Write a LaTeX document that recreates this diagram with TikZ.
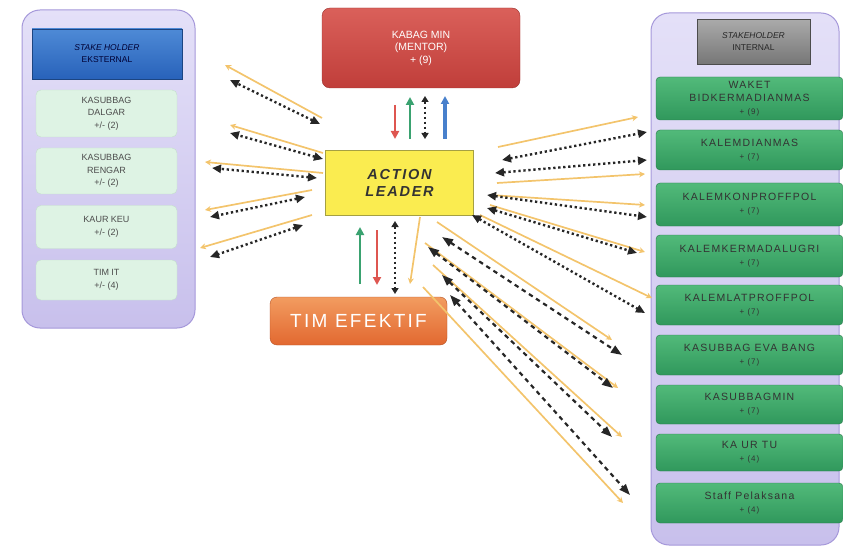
\documentclass[tikz,border=0pt]{standalone}
\usepackage{fontspec}
\setmainfont{Liberation Sans}
\newfontfamily\spaced[LetterSpace=12]{Liberation Sans}
\usetikzlibrary{arrows.meta}

\definecolor{paneltop}{RGB}{228,224,248}
\definecolor{panelbot}{RGB}{200,192,236}
\definecolor{panelline}{RGB}{165,152,218}
\definecolor{mint}{RGB}{222,243,228}
\definecolor{mintline}{RGB}{196,222,204}
\definecolor{greentop}{RGB}{82,186,122}
\definecolor{greenbot}{RGB}{48,152,92}
\definecolor{greenline}{RGB}{40,120,75}
\definecolor{bluetop}{RGB}{78,138,214}
\definecolor{bluebot}{RGB}{40,98,186}
\definecolor{graytop}{RGB}{170,170,170}
\definecolor{graybot}{RGB}{118,118,118}
\definecolor{redtop}{RGB}{218,96,90}
\definecolor{redbot}{RGB}{192,62,58}
\definecolor{yellowbox}{RGB}{250,236,80}
\definecolor{orangetop}{RGB}{242,156,96}
\definecolor{orangebot}{RGB}{226,104,48}
\definecolor{gold}{RGB}{243,196,108}
\definecolor{arrred}{RGB}{222,86,80}
\definecolor{arrgreen}{RGB}{58,162,112}
\definecolor{arrblue}{RGB}{72,128,204}

\begin{document}
\begin{tikzpicture}[x=1pt,y=-1pt,
  panelbox/.style={draw=panelline, line width=1pt, rounded corners=18pt,
    top color=paneltop, bottom color=panelbot, minimum width=#1},
  extbox/.style={draw=mintline, rounded corners=5pt, fill=mint, text=black!70,
    align=center, inner sep=0pt, minimum width=141pt,
    font=\fontsize{9}{12.5}\selectfont},
  intbox/.style={draw=greenline, rounded corners=4pt, top color=greentop,
    bottom color=greenbot, text=black!80, align=center, inner sep=0pt,
    minimum width=187pt, font=\spaced\fontsize{10.5}{13}\selectfont},
  goldarrow/.style={draw=gold, line width=1.7pt, -{Stealth[length=6pt,width=6pt]}},
  dotarrow/.style={draw=black!85, line width=2.4pt, dash pattern=on 2.3pt off 2.7pt,
    {Triangle[length=9pt,width=8pt]}-{Triangle[length=9pt,width=8pt]}},
  dasharrow/.style={draw=black!85, line width=2.2pt, dash pattern=on 4.5pt off 4pt,
    {Triangle[length=11pt,width=8pt]}-{Triangle[length=11pt,width=8pt]}}]
  \useasboundingbox (0,0) rectangle (843,548);

  % stakeholder eksternal
  \node[panelbox=173pt, minimum height=318pt] (ext) at (108.5,169) {};
  \node[draw=bluebot!70!black, top color=bluetop, bottom color=bluebot,
    minimum width=150pt, minimum height=50pt, align=center, text=blue!20!black,
    font=\fontsize{8.5}{12}\selectfont] (exthead) at (107,54)
    {{\itshape STAKE HOLDER}\\EKSTERNAL};
  \node[extbox, minimum height=47pt] (dalgar) at (106.5,113.5) {KASUBBAG\\DALGAR\\+/- (2)};
  \node[extbox, minimum height=46pt] (rengar) at (106.5,171) {KASUBBAG\\RENGAR\\+/- (2)};
  \node[extbox, minimum height=43pt] (kaurkeu) at (106.5,227) {KAUR KEU\\+/- (2)};
  \node[extbox, minimum height=40pt] (timit) at (106.5,280) {TIM IT\\+/- (4)};

  % stakeholder internal
  \node[panelbox=188pt, minimum height=532pt] (int) at (745,279) {};
  \node[draw=black!70, top color=graytop, bottom color=graybot,
    minimum width=113pt, minimum height=45pt, align=center, text=black!85,
    font=\fontsize{8.5}{12}\selectfont] (inthead) at (753.5,42)
    {{\itshape STAKEHOLDER}\\INTERNAL};
  \node[intbox, minimum height=43pt] (waket) at (749.5,98.5) {WAKET\\BIDKERMADIANMAS\\{\footnotesize + (9)}};
  \node[intbox, minimum height=40pt] (dianmas) at (749.5,150) {KALEMDIANMAS\\{\footnotesize + (7)}};
  \node[intbox, minimum height=43pt] (konprof) at (749.5,204.5) {KALEMKONPROFFPOL\\{\footnotesize + (7)}};
  \node[intbox, minimum height=42pt] (kermad) at (749.5,256) {KALEMKERMADALUGRI\\{\footnotesize + (7)}};
  \node[intbox, minimum height=40pt] (latprof) at (749.5,305) {KALEMLATPROFFPOL\\{\footnotesize + (7)}};
  \node[intbox, minimum height=40pt] (evabang) at (749.5,355) {KASUBBAG EVA BANG\\{\footnotesize + (7)}};
  \node[intbox, minimum height=39pt] (subbagmin) at (749.5,404.5) {KASUBBAGMIN\\{\footnotesize + (7)}};
  \node[intbox, minimum height=37pt] (kaurtu) at (749.5,452.5) {KA UR TU\\{\footnotesize + (4)}};
  \node[intbox, minimum height=40pt] (staff) at (749.5,503) {Staff Pelaksana\\{\footnotesize + (4)}};

  % middle
  \node[draw=redbot!80!black, rounded corners=8pt, top color=redtop, bottom color=redbot,
    minimum width=198pt, minimum height=80pt, align=center, text=white,
    font=\fontsize{10.5}{12.5}\selectfont] (mentor) at (421,48)
    {KABAG MIN\\(MENTOR)\\+ (9)};
  \node[draw=yellow!60!black, fill=yellowbox, minimum width=148pt, minimum height=65pt,
    align=center, text=black!80,
    font=\spaced\bfseries\itshape\fontsize{14.5}{17}\selectfont] (leader) at (399.5,182.5)
    {ACTION\\LEADER};
  \node[draw=orangebot!80!black, rounded corners=7pt, top color=orangetop,
    bottom color=orangebot, minimum width=177pt, minimum height=48pt, text=white,
    font=\spaced\fontsize{19}{22}\selectfont] (timef) at (358.5,321) {TIM EFEKTIF};

  % mentor <-> leader
  \foreach \n/\xa/\ya/\xb/\yb/\c/\w in {r/395/105/395/139/arrred/2pt, g/410/139/410/97/arrgreen/2pt,
      b/445/139/445/96/arrblue/3.2pt}
  {
    \coordinate (m\n s) at (\xa,\ya);
    \coordinate (m\n e) at (\xb,\yb);
    \draw[\c, line width=\w, -{Triangle[length=8pt,width=8pt]}] (m\n s) -- (m\n e);
  }
  \coordinate (mks) at (425,96);
  \coordinate (mke) at (425,139);
  \draw[dotarrow, {Triangle[length=6pt,width=7pt]}-{Triangle[length=6pt,width=7pt]}] (mks) -- (mke);

  % leader <-> tim efektif
  \coordinate (tgs) at (360,284);
  \coordinate (tge) at (360,227);
  \draw[arrgreen, line width=2pt, -{Triangle[length=8pt,width=8pt]}] (tgs) -- (tge);
  \coordinate (trs) at (377,230);
  \coordinate (tre) at (377,285);
  \draw[arrred, line width=2pt, -{Triangle[length=8pt,width=8pt]}] (trs) -- (tre);
  \coordinate (tks) at (395,221);
  \coordinate (tke) at (395,294);
  \draw[dotarrow, {Triangle[length=6pt,width=7pt]}-{Triangle[length=6pt,width=7pt]}] (tks) -- (tke);
  \coordinate (tos) at (420,217);
  \coordinate (toe) at (410,284);
  \draw[goldarrow] (tos) -- (toe);

  % leader <-> eksternal
  \foreach \n/\xa/\ya/\xb/\yb in {1/322/118/225/65, 2/323/153/230/125, 3/323/173/205/162,
      4/312/190/205/210, 5/312/215/200/248}
  {
    \coordinate (lo\n s) at (\xa,\ya);
    \coordinate (lo\n e) at (\xb,\yb);
    \draw[goldarrow] (lo\n s) -- (lo\n e);
  }
  \foreach \n/\xa/\ya/\xb/\yb in {1/320/124/230/80, 2/323/159/230/133, 3/317/178/212/168,
      4/305/197/210/217, 5/303/225/210/257}
  {
    \coordinate (ld\n s) at (\xa,\ya);
    \coordinate (ld\n e) at (\xb,\yb);
    \draw[dotarrow] (ld\n s) -- (ld\n e);
  }

  % leader <-> internal
  \foreach \n/\xa/\ya/\xb/\yb in {1/498/147/638/117, 2/497/183/645/174, 3/490/195/645/205,
      4/490/205/645/252, 5/480/215/652/298, 6/437/222/612/340, 7/425/243/618/388,
      8/433/265/622/437, 9/423/287/623/503}
  {
    \coordinate (ro\n s) at (\xa,\ya);
    \coordinate (ro\n e) at (\xb,\yb);
    \draw[goldarrow] (ro\n s) -- (ro\n e);
  }
  \foreach \n/\xa/\ya/\xb/\yb in {1/502/160/647/132, 2/495/173/647/160, 3/487/195/647/217,
      4/487/208/637/253, 5/472/215/645/313}
  {
    \coordinate (rd\n s) at (\xa,\ya);
    \coordinate (rd\n e) at (\xb,\yb);
    \draw[dotarrow] (rd\n s) -- (rd\n e);
  }
  \foreach \n/\xa/\ya/\xb/\yb in {1/442/237/622/355, 2/428/247/613/388, 3/442/275/612/437,
      4/450/295/630/495}
  {
    \coordinate (rk\n s) at (\xa,\ya);
    \coordinate (rk\n e) at (\xb,\yb);
    \draw[dasharrow] (rk\n s) -- (rk\n e);
  }
\end{tikzpicture}
\end{document}
